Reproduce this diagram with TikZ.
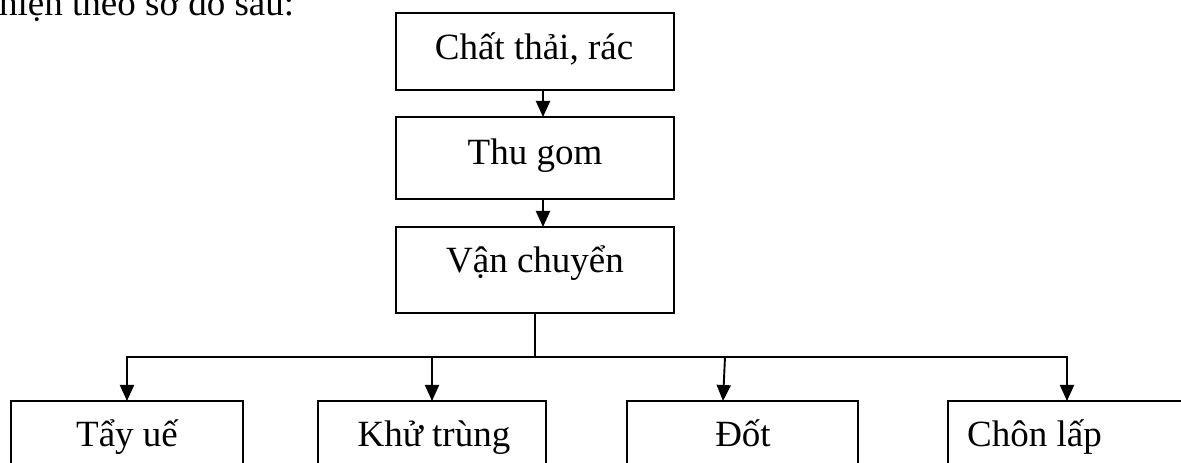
\documentclass[tikz,border=0pt]{standalone}
\usepackage{fontspec}
\setmainfont{Liberation Serif}
\usetikzlibrary{arrows.meta}
\begin{document}
\begin{tikzpicture}[x=1bp,y=-1bp,
  box/.style={draw, line width=1.9bp, inner sep=0pt, outer sep=0pt},
  lbl/.style={anchor=base, inner sep=0pt, font=\fontsize{37bp}{43bp}\selectfont},
  wire/.style={line width=1.9bp, line join=miter},
  arr/.style={wire, -{Triangle[length=16bp,width=14bp]}}]
\useasboundingbox (0,0) rectangle (1181,463);
\clip (0,0) rectangle (1181,463);

% line of text above the chart
\node[lbl, anchor=base west] (intro) at (-1,16) {hiện theo sơ đồ sau:};

% main chain
\node[box, minimum width=278bp, minimum height=77bp] (a) at (535,51.5) {};
\node[lbl] (ta) at (534,60) {Chất thải, rác};
\node[box, minimum width=278bp, minimum height=82bp] (b) at (535,158) {};
\node[lbl] (tb) at (535,165) {Thu gom};
\node[box, minimum width=278bp, minimum height=86bp] (c) at (535,270) {};
\node[lbl] (tc) at (535,273) {Vận chuyển};

% treatment boxes
\node[box, minimum width=232bp, minimum height=89bp] (t1) at (127,445.5) {};
\node[lbl] (l1) at (127,447) {Tẩy uế};
\node[box, minimum width=228bp, minimum height=89bp] (t2) at (432,445.5) {};
\node[lbl] (l2) at (434,447) {Khử trùng};
\node[box, minimum width=231bp, minimum height=89bp] (t3) at (742.5,445.5) {};
\node[lbl] (l3) at (743,447) {Đốt};
\node[box, minimum width=252bp, minimum height=89bp] (t4) at (1074,445.5) {};
\node[lbl, anchor=base west] (l4) at (967,447) {Chôn lấp};

% connectors
\draw[arr] ([xshift=8bp]a.south) -- ([xshift=8bp]b.north);
\draw[arr] ([xshift=8bp]b.south) -- ([xshift=8bp]c.north);

\coordinate (busL) at (127,357);
\coordinate (busR) at (1067,357);
\coordinate (d3) at (725,357);
\draw[wire] (c.south) -- (c.south |- busL);
\draw[arr] (busR) -- (busL) -- (t1.north);
\draw[arr] (busL) -- (busR) -- (busR |- t4.north);
\draw[arr] (t2.north |- busL) -- (t2.north);
\draw[arr] (d3) -- ([xshift=-19.5bp]t3.north);
\end{tikzpicture}
\end{document}
